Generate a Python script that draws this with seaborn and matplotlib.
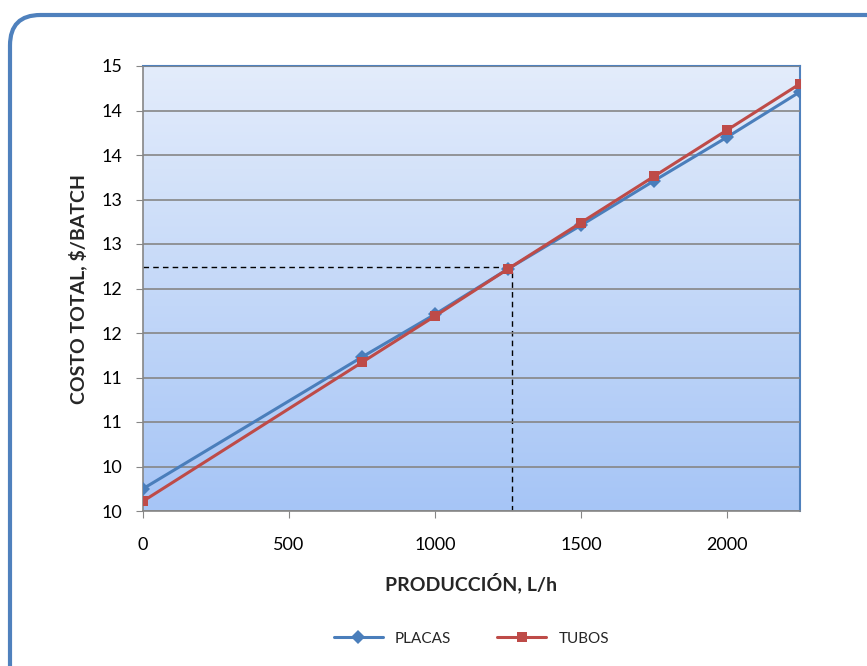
import numpy as np
import pandas as pd
import matplotlib
matplotlib.use('Agg')
import matplotlib.pyplot as plt
import seaborn as sns
from matplotlib.patches import FancyBboxPatch

# --- Datos ---
produccion = [0, 750, 1000, 1250, 1500, 1750, 2000, 2250]
costo_placas = [10.25, 11.73, 12.21, 12.72, 13.21, 13.71, 14.20, 14.71]
costo_tubos = [10.11, 11.67, 12.19, 12.72, 13.24, 13.76, 14.28, 14.80]
y_ticks = [10, 10.5, 11, 11.5, 12, 12.5, 13, 13.5, 14, 14.5, 15]
y_labels = ['10', '10', '11', '11', '12', '12', '13', '13', '14', '14', '15']
x_ticks = [0, 500, 1000, 1500, 2000]
punto_eq = (1265, 12.74)

df = pd.DataFrame({
    'produccion': produccion * 2,
    'costo': costo_placas + costo_tubos,
    'serie': ['PLACAS'] * len(produccion) + ['TUBOS'] * len(produccion),
})

sns.set_style('white')
plt.rcParams['font.family'] = ['Lato', 'DejaVu Sans']

fig = plt.figure(figsize=(8.67, 6.66), dpi=100)
ax = fig.add_axes([143 / 867, 1 - 511 / 666, 657 / 867, 445 / 666])

# marco redondeado exterior
marco = FancyBboxPatch((10 / 867, -0.05), 1.1, 1 - 15 / 666 + 0.05,
                       boxstyle='round,pad=0,rounding_size=0.035',
                       transform=fig.transFigure, facecolor='white',
                       edgecolor='#4f81bd', linewidth=3, zorder=-10,
                       mutation_aspect=867 / 666)
fig.patches.append(marco)

# fondo degradado (claro arriba, azul abajo)
grad = np.linspace(0, 1, 256).reshape(-1, 1)
cmap = matplotlib.colors.LinearSegmentedColormap.from_list('fondo', ['#e3ecfb', '#a6c5f6'])
ax.imshow(grad, aspect='auto', cmap=cmap, extent=[0, 1, 0, 1], origin='upper',
          transform=ax.transAxes, zorder=0)

ax.set_xlim(0, 2250)
ax.set_ylim(10, 15)
ax.set_yticks(y_ticks)
ax.set_yticklabels(y_labels)
ax.set_xticks(x_ticks)
ax.grid(axis='y', color='#868686', linewidth=1.2, zorder=1)
ax.set_axisbelow(False)

# lineas de equilibrio
ax.plot([0, punto_eq[0]], [punto_eq[1], punto_eq[1]], color='black',
        linestyle=(0, (4, 3)), linewidth=1, zorder=2)
ax.plot([punto_eq[0], punto_eq[0]], [10, punto_eq[1]], color='black',
        linestyle=(0, (4, 3)), linewidth=1, zorder=2)

sns.lineplot(data=df, x='produccion', y='costo', hue='serie', style='serie',
             palette={'PLACAS': '#4a7ebb', 'TUBOS': '#be4b48'},
             markers={'PLACAS': 'D', 'TUBOS': 's'}, dashes=False,
             markersize=7, linewidth=2.2, markeredgewidth=0, ax=ax, zorder=3)

for lado in ['top', 'right']:
    ax.spines[lado].set_color('#4f81bd')
    ax.spines[lado].set_linewidth(1.5)
for lado in ['left', 'bottom']:
    ax.spines[lado].set_color('#868686')
    ax.spines[lado].set_linewidth(1.2)

ax.tick_params(axis='both', labelsize=13, colors='black', length=5,
               color='#868686', direction='out', left=True, bottom=True)
ax.tick_params(axis='x', pad=14)
ax.tick_params(axis='y', pad=10)
ax.set_xlabel('PRODUCCIÓN, L/h', fontsize=14, fontweight='bold', labelpad=14)
ax.set_ylabel('COSTO TOTAL, $/BATCH', fontsize=14, fontweight='bold', labelpad=10)

ax.legend(loc='upper center', bbox_to_anchor=(0.5, -0.24), ncol=2, frameon=False,
          fontsize=11, handlelength=3.2, columnspacing=3, title=None)

fig.savefig('out.png', dpi=100)
